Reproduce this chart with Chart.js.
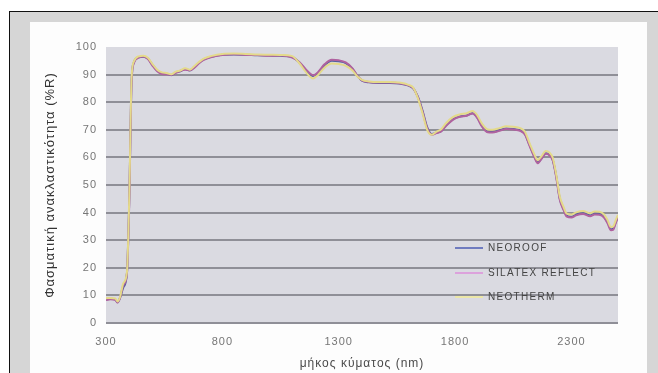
<!DOCTYPE html>
<html>
<head>
<meta charset="utf-8">
<script src="https://cdn.jsdelivr.net/npm/chart.js@4"></script>
<style>
  html, body { margin: 0; padding: 0; background: #ffffff; }
  #page { position: relative; width: 658px; height: 373px; overflow: hidden; font-family: "Liberation Sans", Arial, sans-serif; }
  #frame { position: absolute; left: 9px; top: 11px; right: 0; bottom: 0; background: #d6d6d6; border-top: 1px solid #111; border-left: 1px solid #111; }
  #panel { position: absolute; left: 30px; top: 22px; width: 617px; bottom: 0; background: #fdfdfd; }
  canvas { position: absolute; left: 0; top: 0; }
  .leg { position: absolute; left: 455px; height: 14px; }
  .leg .ln { position: absolute; left: 0; top: 6px; width: 28px; height: 2px; }
  .leg .tx { position: absolute; left: 33px; top: 0; line-height: 14px; font-size: 10px; letter-spacing: 1.3px; color: #444444; white-space: nowrap; }
</style>
</head>
<body>
<div id="page">
  <div id="frame"></div>
  <div id="panel"></div>
  <canvas id="c" width="658" height="373"></canvas>
  <div id="legend"></div>
</div>
<script>
// ---- data ----
const wavelengths = [300,320,340,350,360,375,390,400,410,420,440,460,480,500,520,540,560,580,600,620,640,660,680,700,720,750,800,850,900,950,1000,1050,1100,1130,1160,1190,1210,1240,1270,1300,1330,1360,1380,1400,1430,1470,1520,1560,1600,1620,1640,1660,1680,1700,1720,1740,1760,1790,1820,1850,1875,1895,1915,1940,1960,1990,2020,2050,2080,2100,2120,2140,2155,2170,2190,2205,2220,2235,2250,2265,2280,2300,2320,2350,2380,2400,2420,2440,2455,2470,2480,2490,2500];

const neoroof = [8.5,8.8,8.5,7.5,9,13,18,45,88,94.5,
  96.3,96.5,95.8,93.5,91.5,90.5,90.3,89.8,90.8,91.2,
  92,91.5,92.8,94.3,95.5,96.4,97.2,97.3,97.2,97,
  96.9,96.8,96.4,94.5,91.5,89.5,90.5,93.5,95,94.8,
  94.2,92,89.5,87.8,87.2,87,87,86.8,86,85,
  82,77,71,68.5,69,69.5,71.5,73.8,74.8,75.2,
  76,74.5,71.5,69.3,69.2,69.8,70.5,70.3,69.8,68.5,
  64.5,60.5,58.2,59.5,61.5,61,59,53,45,41.5,
  38.8,38.5,39.3,39.8,39,39.6,39.5,38.5,36.5,34,
  34.3,36.5,38.5];

const silatexReflect = [8.3,8.6,8.4,7.4,9.1,13.8,18,44,87.5,94.2,
  96.1,96.6,95.6,93.2,91.2,90.2,90.1,89.9,90.6,91.4,
  91.8,91.6,92.5,94.1,95.3,96.3,97.1,97.4,97.1,97.1,
  96.8,96.9,96.2,94.6,91.8,89.8,90.8,93.8,95.4,95.2,
  94.4,92.2,89.6,87.9,87.3,87.1,87.1,86.9,86.1,85.1,
  81.8,76.6,70.6,68.2,68.8,69.4,71.3,73.6,74.7,75.1,
  75.9,74.3,71.2,69.1,69,69.6,70.3,70.1,69.6,68.3,
  64.2,60.2,57.9,59.3,61.3,60.8,58.8,52.6,44.6,41.2,
  38.5,38.2,39,39.5,38.7,39.3,39.2,38.2,36.1,33.6,
  33.8,36.2,38.3];

const neotherm = [9,9.1,8.9,7.8,9.4,14.5,18.5,46,89,94.8,
  96.6,96.8,96.1,93.8,91.8,90.8,90.6,90.1,91.1,91.5,
  92.3,91.8,93.1,94.6,95.8,96.7,97.5,97.6,97.5,97.3,
  97.2,97.1,96.7,94.2,90.8,88.6,89.8,92.6,94,93.8,
  93.2,91.4,89.3,88.1,87.5,87.3,87.3,87.1,86.3,85.3,
  81.5,76,70,68.2,69.3,70.2,72.3,74.6,75.6,76,
  76.8,75.3,72.3,70.1,70,70.6,71.3,71.1,70.6,69.3,
  65.2,61.2,59,60.3,62.3,61.8,59.8,53.6,45.8,42.3,
  39.6,39.3,40.1,40.6,39.8,40.4,40.3,39.3,37.3,34.8,
  35,37.2,39.2];

const seriesNames = ["NEOROOF", "SILATEX REFLECT", "NEOTHERM"];
const xTicks = [300, 800, 1300, 1800, 2300];
const xTickLabels = ["300", "800", "1300", "1800", "2300"];
const yTicks = [0,10,20,30,40,50,60,70,80,90,100];
const xTitle = "μήκος κύματος (nm)";
const yTitle = "Φασματική ανακλαστικότητα (%R)";

// ---- styles ----
const lineColors = ["#55609f", "#b0629f", "#e4da8a"];
const legendColors = ["#6f7bbf", "#dca2dc", "#ece7a8"];
const drawOrder = [2, 1, 0]; // lower = drawn on top

function pts(arr) { return wavelengths.map((w, i) => ({ x: w, y: arr[i] })); }
const seriesData = [neoroof, silatexReflect, neotherm];

const plotBg = {
  id: 'plotBg',
  beforeDraw(chart) {
    const { ctx, chartArea: a } = chart;
    ctx.save();
    ctx.fillStyle = '#dadae1';
    ctx.fillRect(a.left, a.top, a.right - a.left, a.bottom - a.top);
    ctx.restore();
    ctx.letterSpacing = '1px';
  }
};

new Chart(document.getElementById('c'), {
  type: 'line',
  data: {
    datasets: seriesNames.map((n, i) => ({
      label: n,
      data: pts(seriesData[i]),
      borderColor: lineColors[i],
      backgroundColor: lineColors[i],
      borderWidth: 2,
      pointRadius: 0,
      fill: false,
      cubicInterpolationMode: 'monotone',
      order: drawOrder[i]
    }))
  },
  options: {
    responsive: false,
    animation: false,
    devicePixelRatio: 1,
    layout: { padding: { left: 43, right: 40, top: 47, bottom: 0 } },
    plugins: { legend: { display: false }, tooltip: { enabled: false } },
    scales: {
      x: {
        type: 'linear',
        min: 300, max: 2500,
        afterBuildTicks: (axis) => { axis.ticks = xTicks.map(v => ({ value: v })); },
        afterFit: (s) => { s.height = 50; },
        grid: { display: false, drawTicks: false },
        border: { display: false },
        ticks: {
          padding: 12,
          maxRotation: 0,
          autoSkip: false,
          color: '#767676',
          font: { family: 'Liberation Sans', size: 11 },
          callback: (v) => { const k = xTicks.indexOf(v); return k >= 0 ? xTickLabels[k] : ''; }
        },
        title: {
          display: true, text: xTitle, color: '#4a4a4a',
          font: { family: 'Liberation Sans', size: 12 },
          padding: { top: 0, bottom: 2 }
        }
      },
      y: {
        min: 0, max: 100,
        afterBuildTicks: (axis) => { axis.ticks = yTicks.map(v => ({ value: v })); },
        afterFit: (s) => { s.width = 63; },
        grid: {
          drawTicks: false,
          lineWidth: 2,
          color: (ctx) => (ctx.tick && ctx.tick.value === 100) ? 'rgba(0,0,0,0)' : '#8f8f97'
        },
        border: { display: false },
        ticks: {
          padding: 9,
          color: '#767676',
          font: { family: 'Liberation Sans', size: 11 }
        },
        title: {
          display: true, text: yTitle, color: '#333333',
          font: { family: 'Liberation Sans', size: 13 },
          padding: { top: 0, bottom: 0 }
        }
      }
    }
  },
  plugins: [plotBg]
});

// legend (inside plot, lower right)
const legendTops = [241, 266, 290];
const lg = document.getElementById('legend');
seriesNames.forEach((n, i) => {
  const d = document.createElement('div');
  d.className = 'leg';
  d.style.top = legendTops[i] + 'px';
  d.innerHTML = '<div class="ln" style="background:' + legendColors[i] + '"></div><div class="tx">' + n + '</div>';
  lg.appendChild(d);
});
</script>
</body>
</html>
